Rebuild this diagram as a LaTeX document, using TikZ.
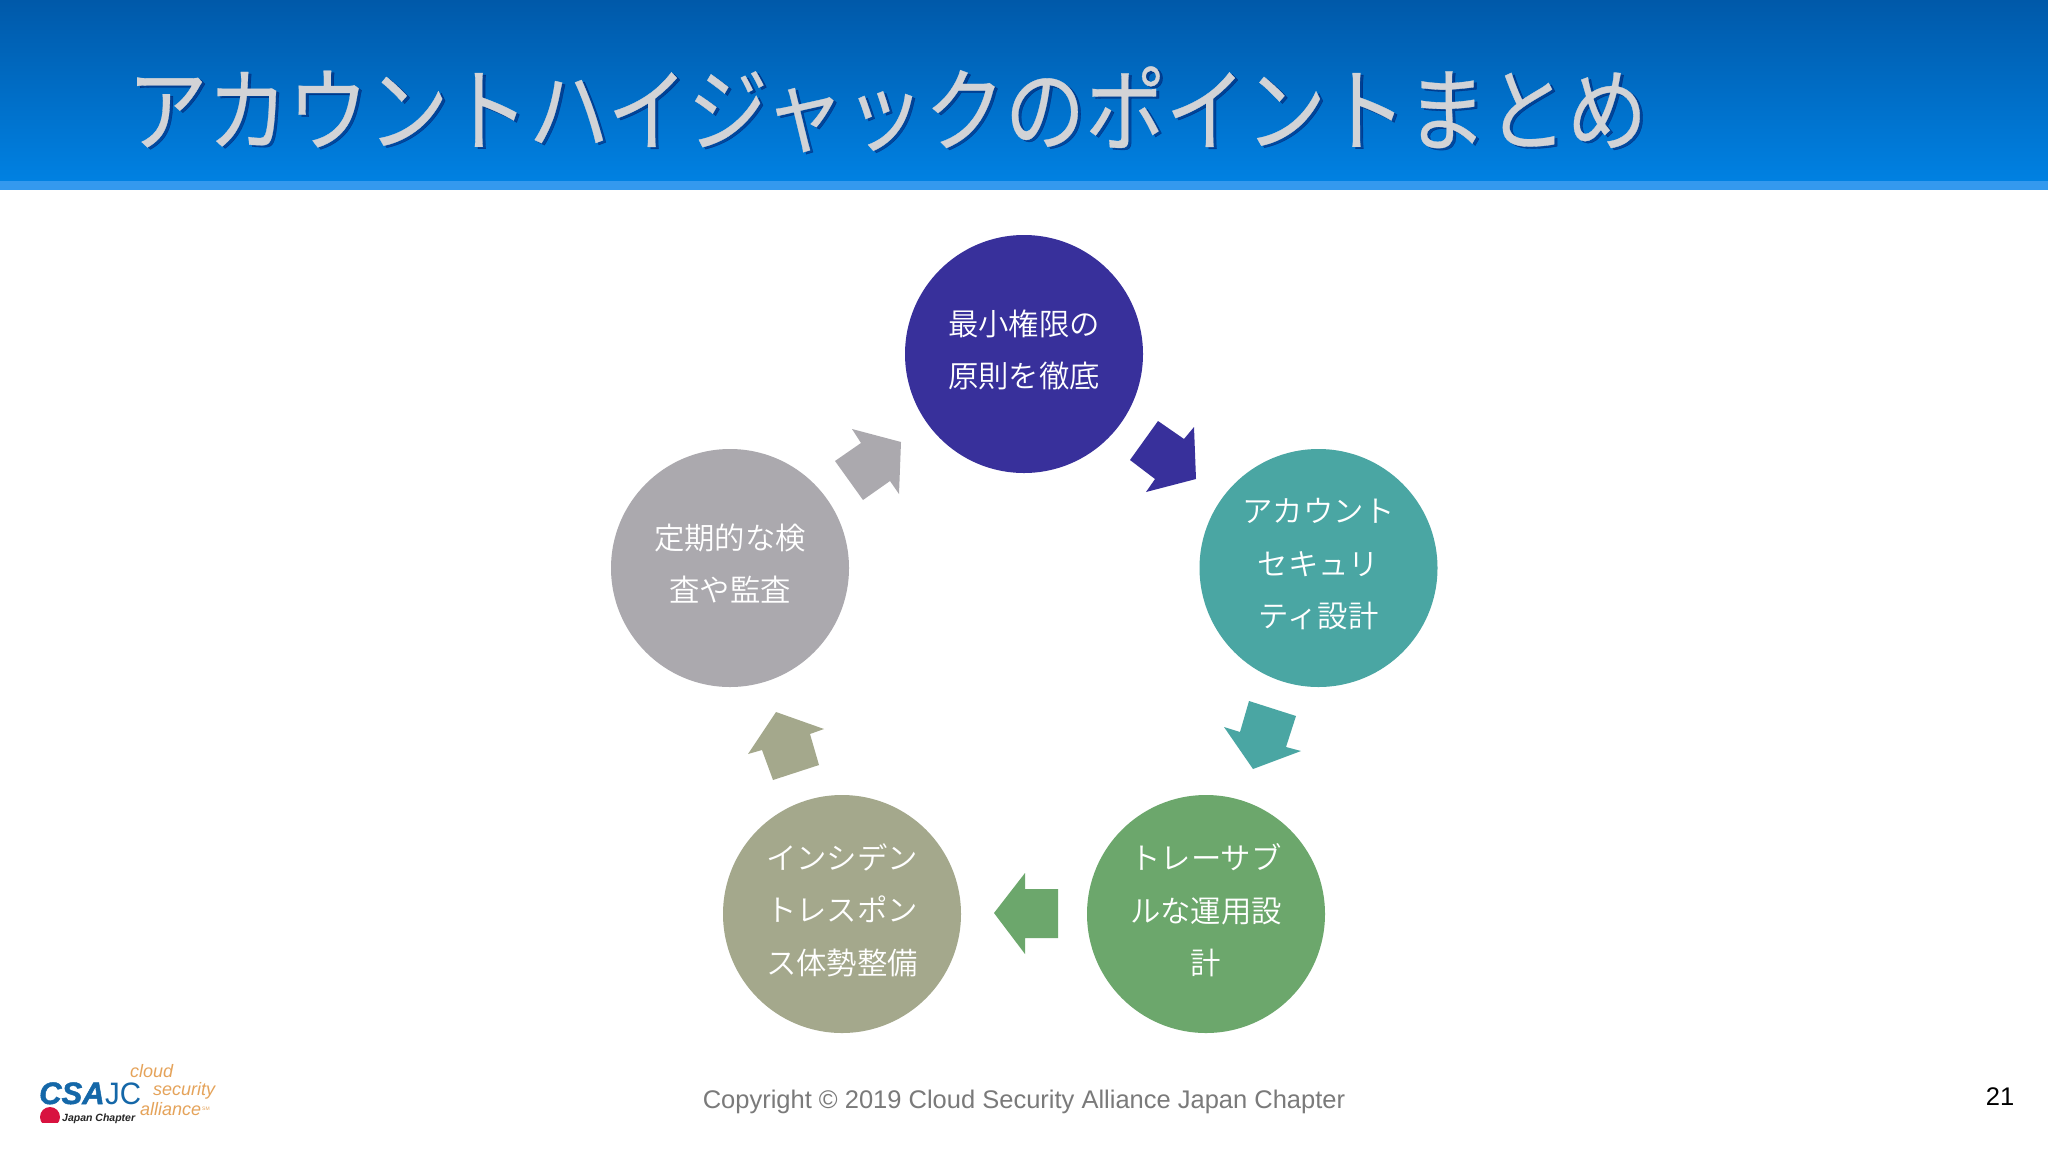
\documentclass[tikz,border=0pt]{standalone}
\usepackage{fontspec}
\setmainfont{Liberation Sans}
\newfontfamily\jp[UprightFont={* DemiLight}]{Noto Sans CJK JP}
\newfontfamily\jpbold[FakeBold=0.35]{Noto Sans CJK JP}
\newfontfamily\logoface[BoldItalicFeatures={FakeBold=1.5}]{Liberation Sans}
\newcommand{\liftup}{\rule[-10pt]{0pt}{1pt}}
\definecolor{headtop}{HTML}{0059A9}
\definecolor{headbot}{HTML}{0081E2}
\definecolor{headband}{HTML}{3499EE}
\definecolor{titlegray}{HTML}{D2D3D6}
\definecolor{cA}{HTML}{38309B}
\definecolor{cB}{HTML}{4AA6A3}
\definecolor{cC}{HTML}{6CA76C}
\definecolor{cD}{HTML}{A4A88C}
\definecolor{cE}{HTML}{ABA9AE}
\definecolor{logoblue}{HTML}{1467A8}
\definecolor{logoorange}{HTML}{E5A35A}
\definecolor{logored}{HTML}{D8123F}
\tikzset{
  cyclenode/.style={circle,minimum size=238pt,inner sep=0pt,text=white,align=center,
    font={\jp\fontsize{30.4}{52.3}\selectfont}},
  blockarrow/.style={draw=none},
  titletext/.style={anchor=base west,inner sep=0pt,yscale=1.14,font={\jpbold\fontsize{80.3}{80}\selectfont}},
  logotag/.style={anchor=base west,inner sep=0pt,text=logoorange,font={\itshape\fontsize{18}{18}\selectfont}},
}
\begin{document}
\begin{tikzpicture}[x=1pt,y=-1pt]
\useasboundingbox (0,0) rectangle (2048,1152);
\fill[white] (0,0) rectangle (2048,1152);
% header
\shade[top color=headtop,bottom color=headbot] (0,0) rectangle (2048,181);
\fill[headband] (0,181) rectangle (2048,190);
\node[titletext,text=black!70!blue,opacity=.4] (titleshadow) at (130,146) {アカウントハイジャックのポイントまとめ};
\node[titletext,text=titlegray] (title) at (127,144) {アカウントハイジャックのポイントまとめ};
% cycle nodes
\node[cyclenode,fill=cA] (n1) at (1024,354) {最小権限の\\原則を徹底\liftup};
\node[cyclenode,fill=cB] (n2) at (1318.5,568) {アカウント\\セキュリ\\ティ設計\liftup};
\node[cyclenode,fill=cC] (n3) at (1206,914) {トレーサブ\\ルな運用設\\計\liftup};
\node[cyclenode,fill=cD] (n4) at (842,914) {インシデン\\トレスポン\\ス体勢整備\liftup};
\node[cyclenode,fill=cE] (n5) at (730,568) {定期的な検\\査や監査\liftup};
% block arrows
\fill[blockarrow,cA] (1158,421)--(1184,439)--(1194,427)--(1196,479)--(1146,492)--(1155,479)--(1130,460)--cycle;
\fill[blockarrow,cB] (1249,701)--(1296,716)--(1286,747)--(1301,751)--(1253,769)--(1224,727)--(1240,732)--cycle;
\fill[blockarrow,cC] (994,913)--(1025,873)--(1025,889)--(1058,889)--(1058,938)--(1025,938)--(1025,954)--cycle;
\fill[blockarrow,cD] (776,712)--(824,729)--(810,734)--(819,765)--(773,780)--(762,750)--(748,754)--cycle;
\fill[blockarrow,cE] (901,442)--(899,494)--(890,481)--(863,500)--(835,461)--(861,443)--(852,429)--cycle;
% footer
\node[text=black!52,inner sep=0pt,font=\fontsize{25.5}{26}\selectfont] (copy) at (1024,1102) {Copyright © 2019 Cloud Security Alliance Japan Chapter};
\node[text=black,inner sep=0pt,font=\fontsize{25.5}{26}\selectfont] (page) at (2000,1097) {21};
% logo
\begin{scope}
\clip (30,1100) rectangle (80,1122);
\fill[logored] (50,1117) circle (10);
\end{scope}
\node[anchor=base west,inner sep=0pt,text=logoblue,font={\logoface\bfseries\itshape\fontsize{31}{31}\selectfont}] (logocsa) at (39,1104) {CSA};
\node[anchor=base west,inner sep=0pt,text=logoblue,xscale=.95,font={\fontsize{31}{31}\selectfont}] (logojc) at (105,1104) {JC};
\node[anchor=base west,inner sep=0pt,text=black!85,font={\bfseries\itshape\fontsize{10.5}{12}\selectfont}] (logojp) at (62,1121) {Japan Chapter};
\node[logotag] (cloud) at (130,1077) {cloud};
\node[logotag] (security) at (153,1095) {security};
\node[logotag] (alliance) at (140,1115) {alliance};
\node[anchor=base west,inner sep=0pt,text=logoorange,font={\fontsize{5}{5}\selectfont}] (sm) at (202,1110) {SM};
\end{tikzpicture}
\end{document}
